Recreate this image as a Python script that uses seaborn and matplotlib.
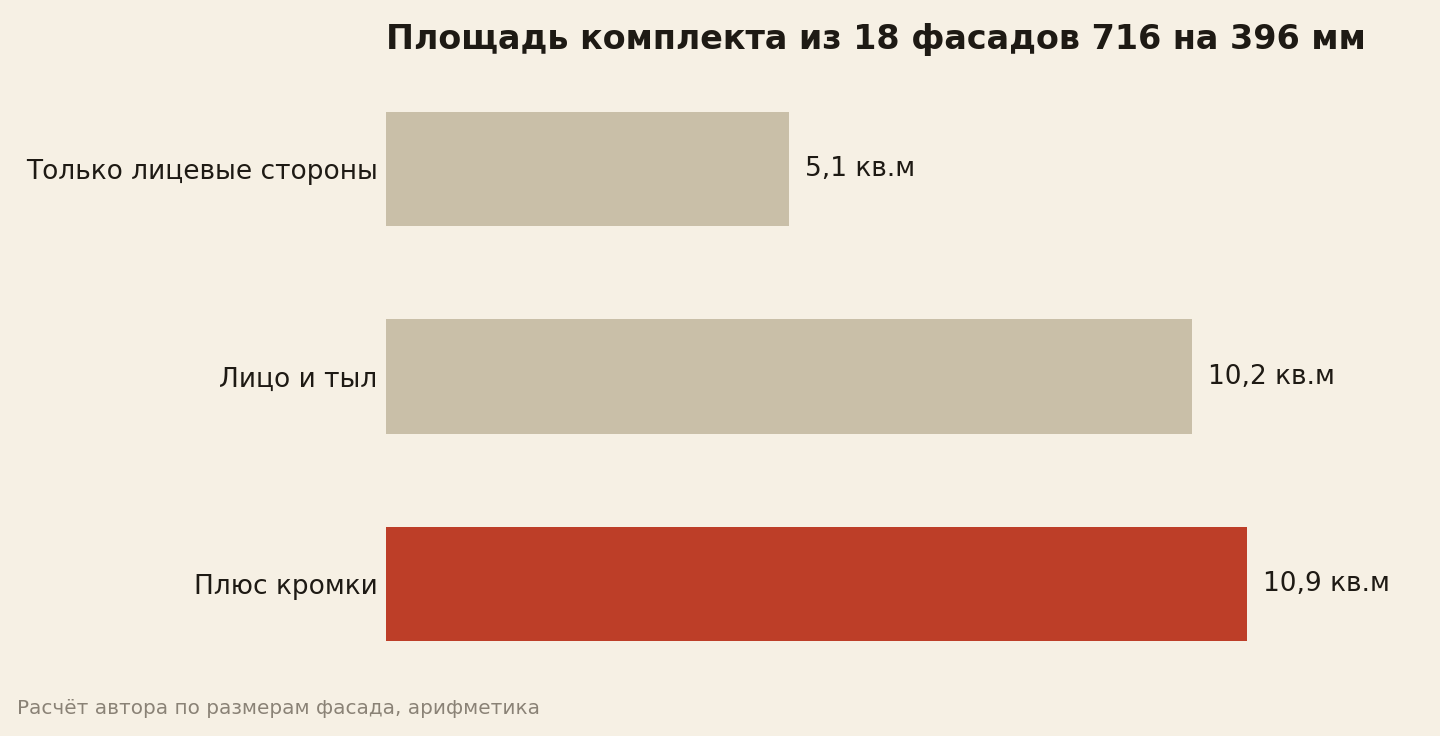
import pandas as pd
import seaborn as sns
import matplotlib.pyplot as plt

# Data
categories = ['Только лицевые стороны', 'Лицо и тыл', 'Плюс кромки']
areas = [5.1, 10.2, 10.9]
value_labels = ['5,1 кв.м', '10,2 кв.м', '10,9 кв.м']
bar_colors = ['#c9bfa8', '#c9bfa8', '#bd3e28']

df = pd.DataFrame({'category': categories, 'area': areas})

bg = '#f6f0e4'
ink = '#1e1a14'

sns.set_theme(style='white')
plt.rcParams['font.family'] = ['DejaVu Sans']

fig = plt.figure(figsize=(14.4, 7.36), dpi=100, facecolor=bg)
ax = fig.add_axes([386 / 1440, 48.5 / 736, 1027 / 1440, 622 / 736])
ax.set_facecolor(bg)

sns.barplot(data=df, x='area', y='category', hue='category',
            palette=bar_colors, width=0.55, saturation=1,
            linewidth=0, legend=False, ax=ax)

ax.set_xlim(0, 13.0)
ax.set_ylim(2.5, -0.5)

for i, (v, lab) in enumerate(zip(areas, value_labels)):
    ax.annotate(lab, xy=(v, i), xytext=(11.5, 0), textcoords='offset points',
                ha='left', va='center', fontsize=19, color=ink)

ax.set_xlabel('')
ax.set_ylabel('')
ax.set_xticks([])
ax.tick_params(axis='y', length=0, pad=6, labelsize=19, labelcolor=ink)
sns.despine(ax=ax, left=True, bottom=True)

fig.text(386 / 1440, 1 - 40 / 736, 'Площадь комплекта из 18 фасадов 716 на 396 мм',
         ha='left', va='center', fontsize=24, fontweight='bold', color=ink)
fig.text(17 / 1440, 1 - 708 / 736, 'Расчёт автора по размерам фасада, арифметика',
         ha='left', va='center', fontsize=14.4, color='#8a8276')

fig.savefig('out.png', dpi=100, facecolor=bg)
